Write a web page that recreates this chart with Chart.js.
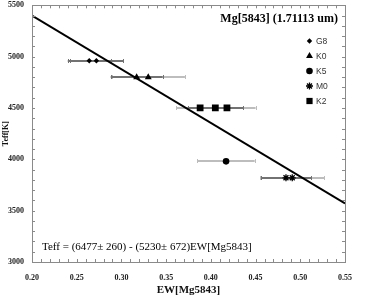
<!DOCTYPE html>
<html lang="en">
<head>
  <meta charset="UTF-8" />
  <title>Teff vs EW[Mg5843]</title>
  <script src="https://cdn.jsdelivr.net/npm/chart.js"></script>
  <style>
    html, body { margin: 0; padding: 0; background: #fff; }
    #wrap { width: 371px; height: 307px; }
  </style>
</head>
<body>
  <div id="wrap"><canvas id="chart" width="371" height="307"></canvas></div>

  <script>
    // axis ticks
    const xTicks = [0.20, 0.25, 0.30, 0.35, 0.40, 0.45, 0.50, 0.55];
    const yTicks = [3000, 3500, 4000, 4500, 5000, 5500];

    // fitted relation (read at both ends of the plot)
    const fitEW = [0.20, 0.55];
    const fitTeff = [5400, 3570];

    // stars per spectral type: EW, Teff, EW error
    const g8EW = [0.264, 0.272];
    const g8Teff = [4960, 4960];
    const g8Err = [0.024, 0.030];

    const k0EW = [0.317, 0.330];
    const k0Teff = [4800, 4800];
    const k0Err = [0.029, 0.041];

    const k5EW = [0.417];
    const k5Teff = [3980];
    const k5Err = [0.032];

    const m0EW = [0.484, 0.491];
    const m0Teff = [3820, 3820];
    const m0Err = [0.028, 0.036];

    const k2EW = [0.388, 0.405, 0.418];
    const k2Teff = [4500, 4500, 4500];
    const k2Err = [0.027, 0.031, 0.032];

    const titleText = 'Mg[5843] (1.71113 um)';
    const fitText = 'Teff = (6477\u00b1 260) - (5230\u00b1 672)EW[Mg5843]';

    const DARK = '#727272';
    const LIGHT = '#bdbdbd';
    const serif = '"Liberation Serif", "Times New Roman", serif';

    const pts = (xs, ys) => xs.map((v, i) => ({ x: v, y: ys[i] }));

    function starSet(label, xs, ys, errs, style, radius, errColors) {
      return {
        label,
        data: pts(xs, ys),
        xErr: errs,
        errColors,
        pointStyle: style,
        pointRadius: radius,
        pointBackgroundColor: '#000',
        pointBorderColor: '#000',
        pointBorderWidth: style === 'star' ? 1.3 : 0,
        showLine: false
      };
    }

    const datasets = [
      {
        type: 'line',
        label: 'fit',
        data: pts(fitEW, fitTeff),
        borderColor: '#000',
        borderWidth: 2,
        pointRadius: 0,
        fill: false,
        order: 0
      },
      starSet('G8', g8EW, g8Teff, g8Err, 'rectRot', 2.7, [DARK, DARK]),
      starSet('K0', k0EW, k0Teff, k0Err, 'triangle', 4, [DARK, LIGHT]),
      starSet('K5', k5EW, k5Teff, k5Err, 'circle', 3.3, [LIGHT]),
      starSet('M0', m0EW, m0Teff, m0Err, 'star', 3.5, [DARK, LIGHT]),
      starSet('K2', k2EW, k2Teff, k2Err, 'rect', 4.8, [LIGHT, DARK, LIGHT])
    ];

    const decoPlugin = {
      id: 'deco',
      beforeDatasetsDraw(chart) {
        const { ctx, scales: { x, y } } = chart;
        ctx.save();
        // light bars first so the dark ones sit on top
        [LIGHT, DARK].forEach(col => {
          chart.data.datasets.forEach(ds => {
            if (!ds.xErr) return;
            ds.data.forEach((p, j) => {
              if (ds.errColors[j] !== col) return;
              const x0 = x.getPixelForValue(p.x - ds.xErr[j]);
              const x1 = x.getPixelForValue(p.x + ds.xErr[j]);
              const py = Math.round(y.getPixelForValue(p.y));
              ctx.strokeStyle = col;
              ctx.lineWidth = 1.8;
              ctx.beginPath();
              ctx.moveTo(x0, py);
              ctx.lineTo(x1, py);
              ctx.stroke();
              ctx.lineWidth = 1;
              ctx.beginPath();
              ctx.moveTo(Math.round(x0) + 0.5, py - 2);
              ctx.lineTo(Math.round(x0) + 0.5, py + 2);
              ctx.moveTo(Math.round(x1) + 0.5, py - 2);
              ctx.lineTo(Math.round(x1) + 0.5, py + 2);
              ctx.stroke();
            });
          });
        });
        ctx.restore();
      },
      afterDraw(chart) {
        const { ctx, chartArea: a, scales: { x, y } } = chart;
        ctx.save();

        // frame
        ctx.strokeStyle = '#8a8a8a';
        ctx.lineWidth = 1;
        ctx.strokeRect(Math.round(a.left) + 0.5, Math.round(a.top) + 0.5,
          Math.round(a.right - a.left), Math.round(a.bottom - a.top));

        // inward ticks on all four sides
        ctx.beginPath();
        for (let k = 20; k <= 55; k++) {
          const px = Math.round(x.getPixelForValue(k / 100)) + 0.5;
          ctx.moveTo(px, a.bottom);
          ctx.lineTo(px, a.bottom - 3);
          ctx.moveTo(px, a.top);
          ctx.lineTo(px, a.top + 3);
        }
        for (let t = 3000; t <= 5500; t += 100) {
          const py = Math.round(y.getPixelForValue(t)) + 0.5;
          ctx.moveTo(a.left, py);
          ctx.lineTo(a.left + 3, py);
          ctx.moveTo(a.right, py);
          ctx.lineTo(a.right - 3, py);
        }
        ctx.stroke();

        // panel title
        ctx.fillStyle = '#000';
        ctx.font = 'bold 12px ' + serif;
        ctx.textAlign = 'right';
        ctx.textBaseline = 'middle';
        ctx.fillText(titleText, 338, 19);

        // fit relation
        ctx.font = '11px ' + serif;
        ctx.textAlign = 'left';
        ctx.fillText(fitText, 42, 247);

        // legend
        ctx.font = '8.5px "Liberation Sans", Arial, sans-serif';
        chart.data.datasets.forEach((ds, i) => {
          if (!ds.xErr) return;
          const ly = 41 + (i - 1) * 15;
          ctx.fillStyle = '#000';
          ctx.strokeStyle = '#000';
          ctx.lineWidth = ds.pointBorderWidth || 1;
          Chart.helpers.drawPoint(ctx, {
            pointStyle: ds.pointStyle,
            radius: ds.pointStyle === 'rect' ? 4.4 : ds.pointRadius,
            rotation: 0,
            borderWidth: ds.pointBorderWidth
          }, 309.5, ly);
          ctx.fillStyle = '#333';
          ctx.fillText(ds.label, 316, ly + 0.5);
        });

        ctx.restore();
      }
    };

    new Chart(document.getElementById('chart'), {
      type: 'scatter',
      data: { datasets },
      options: {
        responsive: false,
        animation: false,
        devicePixelRatio: 1,
        layout: { padding: { top: 3, right: 26, left: 0, bottom: 0 } },
        plugins: {
          legend: { display: false },
          tooltip: { enabled: false }
        },
        scales: {
          x: {
            type: 'linear',
            min: 0.20,
            max: 0.55,
            grid: { display: false, drawTicks: false },
            border: { display: false },
            afterBuildTicks: s => { s.ticks = xTicks.map(v => ({ value: v })); },
            afterFit: s => { s.height = 45; s.paddingLeft = 0; s.paddingRight = 0; },
            ticks: {
              padding: 11,
              maxRotation: 0,
              autoSkip: false,
              color: '#222',
              font: { family: serif, size: 8, weight: 'bold' },
              callback: v => Number(v).toFixed(2)
            },
            title: {
              display: true,
              text: 'EW[Mg5843]',
              color: '#111',
              font: { family: serif, size: 11, weight: 'bold' },
              padding: { top: 0, bottom: 10 }
            }
          },
          y: {
            type: 'linear',
            min: 3000,
            max: 5500,
            grid: { display: false, drawTicks: false },
            border: { display: false },
            afterBuildTicks: s => { s.ticks = yTicks.map(v => ({ value: v })); },
            afterFit: s => { s.width = 32; s.paddingTop = 0; s.paddingBottom = 0; },
            ticks: {
              padding: 8,
              autoSkip: false,
              color: '#222',
              font: { family: serif, size: 8, weight: 'bold' },
              callback: v => String(v)
            },
            title: {
              display: true,
              text: 'Teff[K]',
              color: '#111',
              font: { family: serif, size: 8, weight: 'bold' },
              padding: { top: 1, bottom: 0 }
            }
          }
        }
      },
      plugins: [decoPlugin]
    });
  </script>
</body>
</html>
